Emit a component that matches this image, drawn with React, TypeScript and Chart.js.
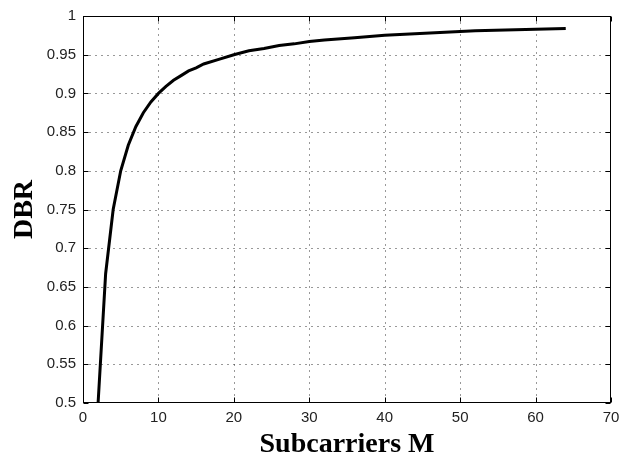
import React, { useEffect, useRef } from "react";
import { Chart, registerables } from "chart.js";

Chart.register(...registerables);

const subcarriers = [2, 3, 4, 5, 6, 7, 8, 9, 10, 11, 12, 13, 14, 15, 16, 18, 20, 22, 24, 26, 28, 30, 32, 36, 40, 44, 48, 52, 56, 60, 64];
const dbr = [0.5, 0.667, 0.75, 0.8, 0.833, 0.857, 0.875, 0.889, 0.9, 0.909, 0.917, 0.923, 0.929, 0.933, 0.938, 0.944, 0.95, 0.955, 0.958, 0.962, 0.964, 0.967, 0.969, 0.972, 0.975, 0.977, 0.979, 0.981, 0.982, 0.983, 0.984];
const xTicks = [0, 10, 20, 30, 40, 50, 60, 70];
const yTicks = [0.5, 0.55, 0.6, 0.65, 0.7, 0.75, 0.8, 0.85, 0.9, 0.95, 1];
const xTitle = "Subcarriers M";
const yTitle = "DBR";

const matlabAxes = {
  id: "matlabAxes",
  beforeDatasetsDraw(chart: any) {
    const { ctx, chartArea } = chart;
    const xs = chart.scales.x;
    const ys = chart.scales.y;
    const L = Math.round(chartArea.left) + 0.5;
    const R = Math.round(chartArea.right) - 0.5;
    const T = Math.round(chartArea.top) + 0.5;
    const B = Math.round(chartArea.bottom) - 0.5;
    ctx.save();
    ctx.strokeStyle = "#333";
    ctx.lineWidth = 1;
    ctx.setLineDash([1, 5]);
    for (const v of xTicks.slice(1, -1)) {
      const px = Math.round(xs.getPixelForValue(v)) + 0.5;
      ctx.beginPath();
      ctx.moveTo(px, T);
      ctx.lineTo(px, B);
      ctx.stroke();
    }
    for (const v of yTicks.slice(1, -1)) {
      const py = Math.round(ys.getPixelForValue(v)) + 0.5;
      ctx.beginPath();
      ctx.moveTo(L, py);
      ctx.lineTo(R, py);
      ctx.stroke();
    }
    ctx.restore();
  },
  afterDatasetsDraw(chart: any) {
    const { ctx, chartArea } = chart;
    const xs = chart.scales.x;
    const ys = chart.scales.y;
    const L = Math.round(chartArea.left) + 0.5;
    const R = Math.round(chartArea.right) - 0.5;
    const T = Math.round(chartArea.top) + 0.5;
    const B = Math.round(chartArea.bottom) - 0.5;
    const tl = 5;
    ctx.save();
    ctx.strokeStyle = "#000";
    ctx.lineWidth = 1;
    ctx.setLineDash([]);
    ctx.strokeRect(L, T, R - L, B - T);
    ctx.beginPath();
    for (const v of xTicks) {
      const px = Math.round(xs.getPixelForValue(v)) + 0.5;
      ctx.moveTo(px, B);
      ctx.lineTo(px, B - tl);
      ctx.moveTo(px, T);
      ctx.lineTo(px, T + tl);
    }
    for (const v of yTicks) {
      const py = Math.round(ys.getPixelForValue(v)) + 0.5;
      ctx.moveTo(L, py);
      ctx.lineTo(L + tl, py);
      ctx.moveTo(R, py);
      ctx.lineTo(R - tl, py);
    }
    ctx.stroke();
    // axis titles
    ctx.fillStyle = "#000";
    ctx.font = "bold 28px 'Liberation Serif', 'Times New Roman', serif";
    ctx.textAlign = "center";
    ctx.textBaseline = "middle";
    ctx.fillText(xTitle, (chartArea.left + chartArea.right) / 2, 445);
    ctx.save();
    ctx.translate(25, (chartArea.top + chartArea.bottom) / 2);
    ctx.rotate(-Math.PI / 2);
    ctx.fillText(yTitle, 0, 0);
    ctx.restore();
    ctx.restore();
  },
};

export default function App() {
  const ref = useRef<HTMLCanvasElement>(null);
  useEffect(() => {
    if (!ref.current) return;
    const chart = new Chart(ref.current, {
      type: "line",
      data: {
        datasets: [
          {
            data: subcarriers.map((m, i) => ({ x: m, y: dbr[i] })),
            borderColor: "#000",
            borderWidth: 3,
            pointRadius: 0,
            tension: 0,
            fill: false,
          },
        ],
      },
      options: {
        animation: false,
        responsive: false,
        devicePixelRatio: 1,
        layout: { padding: { left: 0, right: 23, top: 7, bottom: 0 } },
        plugins: { legend: { display: false }, tooltip: { enabled: false } },
        scales: {
          x: {
            type: "linear",
            min: 0,
            max: 70,
            afterFit: (s: any) => {
              s.height = 59;
            },
            afterBuildTicks: (s: any) => {
              s.ticks = xTicks.map((v) => ({ value: v }));
            },
            ticks: {
              color: "#222",
              font: { family: "'Liberation Sans', Arial, sans-serif", size: 15 },
              padding: 6,
              maxRotation: 0,
              autoSkip: false,
            },
            grid: { display: false, drawTicks: false },
            border: { display: false },
          },
          y: {
            type: "linear",
            min: 0.5,
            max: 1,
            afterFit: (s: any) => {
              s.width = 83;
            },
            afterBuildTicks: (s: any) => {
              s.ticks = yTicks.map((v) => ({ value: v }));
            },
            ticks: {
              color: "#222",
              font: { family: "'Liberation Sans', Arial, sans-serif", size: 15 },
              padding: 7,
              autoSkip: false,
              callback: (v: any) => String(Number(Number(v).toFixed(2))),
            },
            grid: { display: false, drawTicks: false },
            border: { display: false },
          },
        },
      },
      plugins: [matlabAxes],
    });
    return () => chart.destroy();
  }, []);
  return (
    <div style={{ position: "fixed", left: 0, top: 0, width: 634, height: 462, background: "#fff" }}>
      <canvas ref={ref} width={634} height={462} style={{ width: 634, height: 462, display: "block" }} />
    </div>
  );
}
